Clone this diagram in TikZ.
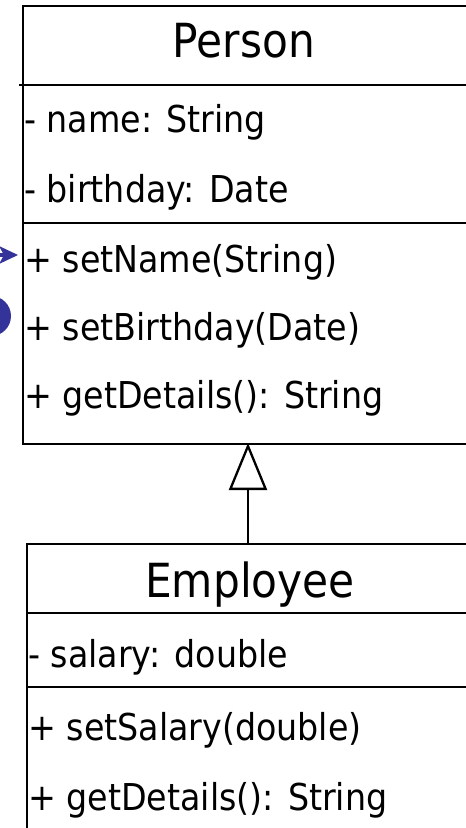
\documentclass[tikz,border=0pt]{standalone}
\usepackage{fontspec}
\setmainfont{DejaVu Sans}[FakeStretch=0.9]
\usetikzlibrary{arrows.meta}
\definecolor{umlblue}{RGB}{51,51,153}
\begin{document}
\begin{tikzpicture}[x=1pt,y=-1pt,
  classbox/.style={draw,line width=2.3pt,inner sep=0,anchor=north west},
  sepline/.style={line width=2.3pt},
  title/.style={font=\fontsize{47}{47}\selectfont,inner sep=0,anchor=base},
  member/.style={font=\fontsize{37}{37}\selectfont,inner sep=0,anchor=base west},
  inherit/.style={line width=2.3pt,-{Triangle[open,length=47pt,width=38pt]}},
  pointer/.style={umlblue,line width=3.5pt},
  pointerhead/.style={fill=umlblue}
]
\useasboundingbox (0,0) rectangle (466,828);
\clip (0,0) rectangle (466,828);
\fill[white] (0,0) rectangle (466,828);

% Person
\node[classbox,minimum width=452,minimum height=438] (person) at (22,5) {};
\draw[sepline] (19,85) -- (480,85);
\draw[sepline] (22,223) -- (480,223);
\node[title] (ptitle) at (244,57) {Person};
\node[member] (pa1) at (24,132) {- name: String};
\node[member] (pa2) at (24,202) {- birthday: Date};
\node[member] (pm1) at (24,272) {+ setName(String)};
\node[member] (pm2) at (24,340) {+ setBirthday(Date)};
\node[member] (pm3) at (24,408) {+ getDetails(): String};

% Employee
\node[classbox,minimum width=452,minimum height=300] (employee) at (26,543) {};
\draw[sepline] (26,613) -- (480,613);
\draw[sepline] (26,687) -- (480,687);
\node[title] (etitle) at (250,597) {Employee};
\node[member] (ea1) at (28,667) {- salary: double};
\node[member] (em1) at (28,740) {+ setSalary(double)};
\node[member] (em2) at (28,810) {+ getDetails(): String};

% Inheritance
\coordinate (etop) at (248,543);
\coordinate (pbot) at (248,443);
\draw[inherit] (etop) -- (pbot);

% Blue marks at left edge
\coordinate (ptrstart) at (-20,255);
\coordinate (ptrend) at (18,255);
\draw[pointer] (ptrstart) -- ([xshift=-10pt]ptrend);
\fill[pointerhead] (ptrend) -- ++(-19,-9) -- ++(5,9) -- ++(-5,9) -- cycle;
\fill[umlblue] (-9,316) circle (20);
\end{tikzpicture}
\end{document}
